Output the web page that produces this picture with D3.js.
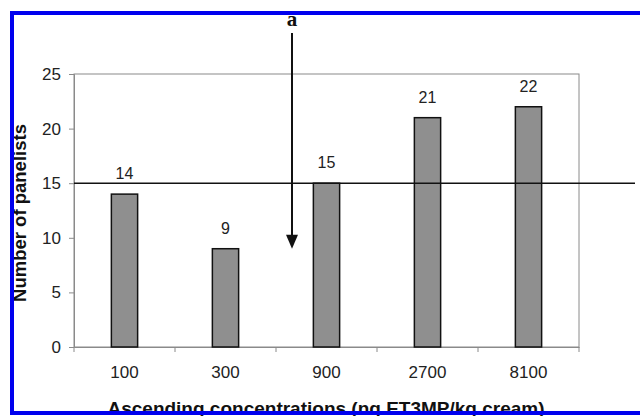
<!DOCTYPE html>
<html><head><meta charset="utf-8">
<script src="https://cdn.jsdelivr.net/npm/d3@7"></script>
<style>body{margin:0;background:#fff}svg{display:block}</style>
</head><body>
<svg id="c" width="640" height="416"></svg>
<script>
const categories = ["100","300","900","2700","8100"];
const values = [14, 9, 15, 21, 22];
const yTicks = [0, 5, 10, 15, 20, 25];
const thresholdValue = 15;
const arrowCategoryBoundary = 2; // arrow between 300 and 900
const arrowTipValue = 9;

const svg = d3.select("#c");
const m = {left:74, right:579, top:74, bottom:347};
const x = d3.scaleBand().domain(categories).range([m.left, m.right]).paddingInner(0.74).paddingOuter(0.37);
const xb = d3.scaleBand().domain(categories).range([m.left, m.right]).padding(0);
const y = d3.scaleLinear().domain([0, 25]).range([m.bottom, m.top]);
const font = "Arial, 'Liberation Sans', sans-serif";

// plot frame
svg.append("rect").attr("x", m.left).attr("y", m.top).attr("width", m.right-m.left).attr("height", m.bottom-m.top)
  .attr("fill","none").attr("stroke","#8a8a8a").attr("stroke-width",1);

// y axis
const ya = svg.append("g").attr("transform",`translate(${m.left},0)`)
  .call(d3.axisLeft(y).tickValues(yTicks).tickSize(5).tickPadding(8));
ya.select(".domain").attr("stroke","#8a8a8a");
ya.selectAll(".tick line").attr("stroke","#8a8a8a");
ya.selectAll("text").attr("font-family",font).attr("font-size",17).attr("fill","#222");

// x axis: ticks at boundaries
const xa = svg.append("g").attr("transform",`translate(0,${m.bottom})`)
  .call(d3.axisBottom(xb).tickSize(0).tickPadding(19));
xa.select(".domain").attr("stroke","#8a8a8a");
xa.selectAll("text").attr("font-family",font).attr("font-size",17).attr("fill","#222");
const bounds = categories.map(c => xb(c)).concat([m.right]);
svg.append("g").selectAll("line").data(bounds).join("line")
  .attr("x1", d=>d).attr("x2", d=>d).attr("y1", m.bottom).attr("y2", m.bottom+5)
  .attr("stroke","#8a8a8a");

// bars
svg.append("g").selectAll("rect").data(values).join("rect")
  .attr("x",(d,i)=>x(categories[i])).attr("width",x.bandwidth())
  .attr("y",d=>y(d)).attr("height",d=>y(0)-y(d))
  .attr("fill","#8f8f8f").attr("stroke","#111").attr("stroke-width",1.5);

// value labels
svg.append("g").selectAll("text").data(values).join("text")
  .attr("x",(d,i)=>x(categories[i])+x.bandwidth()/2).attr("y",d=>y(d)-15)
  .attr("text-anchor","middle").attr("font-family",font).attr("font-size",16).attr("fill","#222")
  .text(d=>d);

// threshold line
svg.append("line").attr("x1", m.left).attr("x2", 635).attr("y1", y(thresholdValue)).attr("y2", y(thresholdValue))
  .attr("stroke","#111").attr("stroke-width",1.5);

// arrow
const ax = xb(categories[arrowCategoryBoundary]) + 16;
const tip = y(arrowTipValue);
svg.append("line").attr("x1",ax).attr("x2",ax).attr("y1",33).attr("y2",tip-12).attr("stroke","#111").attr("stroke-width",2);
svg.append("path").attr("d",`M${ax-6},${tip-14}L${ax+6},${tip-14}L${ax},${tip}Z`).attr("fill","#111");
svg.append("text").attr("x",ax).attr("y",26).attr("text-anchor","middle")
  .attr("font-family","'Liberation Serif','DejaVu Serif',serif").attr("font-weight","bold").attr("font-size",21).attr("fill","#111").text("a");

// axis titles
svg.append("text").attr("x",326).attr("y",415).attr("text-anchor","middle")
  .attr("font-family",font).attr("font-weight","bold").attr("font-size",19).attr("fill","#111")
  .text("Ascending concentrations (ng ET3MP/kg cream)");
svg.append("text").attr("transform","translate(26,213) rotate(-90)").attr("text-anchor","middle")
  .attr("font-family",font).attr("font-weight","bold").attr("font-size",18.5).attr("fill","#111")
  .text("Number of panelists");

// blue border
svg.append("rect").attr("x",12).attr("y",13).attr("width",640).attr("height",400)
  .attr("fill","none").attr("stroke","#0000ee").attr("stroke-width",4);
</script>
</body></html>
